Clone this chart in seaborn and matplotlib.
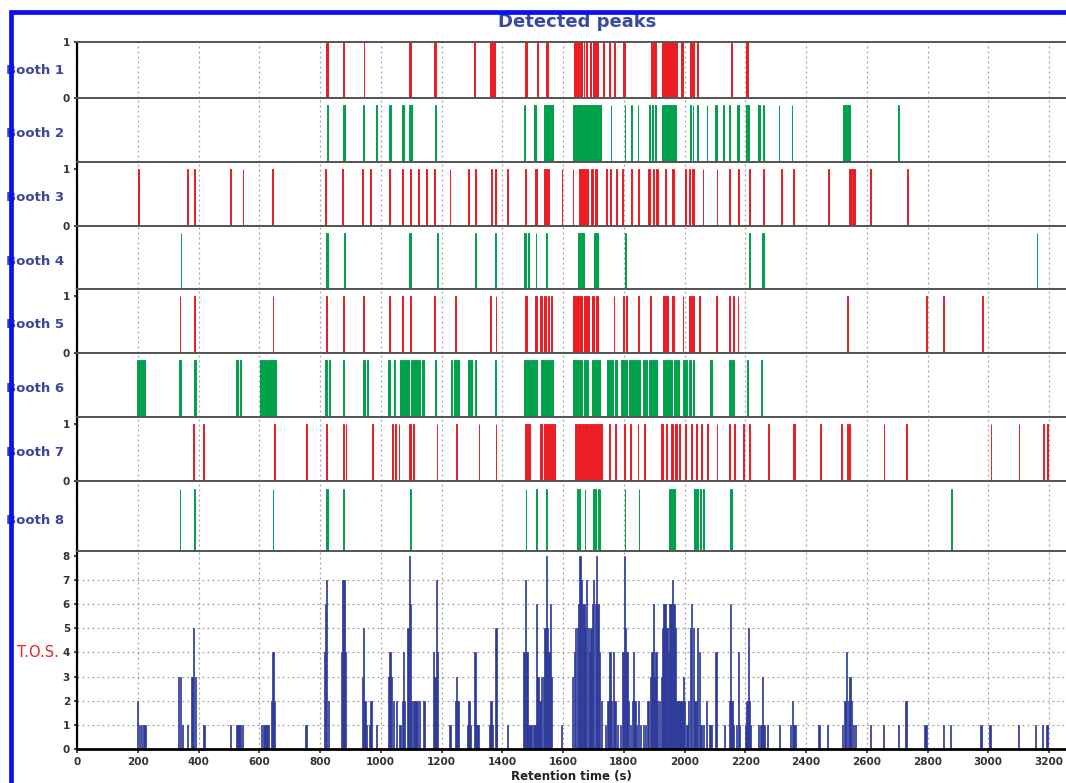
import matplotlib
matplotlib.use("Agg")
import matplotlib.pyplot as plt
import seaborn as sns
from matplotlib.patches import Rectangle
from matplotlib.transforms import blended_transform_factory

# ---------------- data (retention time in s, peak duration in s) ----------------
booth_names = ["Booth 1", "Booth 2", "Booth 3", "Booth 4", "Booth 5", "Booth 6", "Booth 7", "Booth 8"]

b1_time = [823, 877, 945, 1095, 1178, 1310, 1363, 1374, 1479, 1515, 1546, 1640, 1650, 1659, 1669, 1677, 1690, 1704, 1711, 1732, 1752, 1770, 1802, 1893, 1902, 1930, 1940, 1950, 1960, 1970, 1993, 2020, 2028, 2044, 2154, 2206]
b1_dur = [5, 5, 3, 6, 8, 3, 6, 6, 6, 4, 7, 8, 8, 8, 3, 3, 3, 8, 6, 3, 3, 3, 6, 6, 6, 10, 10, 10, 10, 10, 6, 6, 5, 3, 3, 8]

b2_time = [825, 880, 943, 987, 1030, 1073, 1098, 1180, 1474, 1508, 1541, 1552, 1562, 1638, 1650, 1662, 1674, 1686, 1698, 1710, 1720, 1758, 1804, 1827, 1847, 1885, 1895, 1905, 1930, 1942, 1954, 1966, 2020, 2028, 2044, 2074, 2104, 2128, 2148, 2176, 2208, 2246, 2260, 2311, 2354, 2528, 2540, 2705]
b2_dur = [3, 7, 3, 3, 8, 4, 7, 3, 5, 5, 10, 10, 8, 10, 10, 10, 10, 10, 10, 10, 8, 3, 3, 3, 3, 3, 4, 4, 10, 10, 10, 10, 5, 3, 3, 3, 5, 3, 5, 6, 8, 6, 6, 3, 3, 10, 10, 3]

b3_time = [203, 364, 388, 506, 547, 643, 817, 873, 941, 966, 1030, 1072, 1097, 1124, 1150, 1177, 1228, 1288, 1313, 1365, 1379, 1418, 1476, 1511, 1541, 1552, 1597, 1633, 1657, 1668, 1678, 1696, 1708, 1744, 1757, 1777, 1797, 1827, 1850, 1883, 1898, 1910, 1936, 1962, 2004, 2016, 2028, 2061, 2107, 2149, 2178, 2213, 2259, 2318, 2358, 2475, 2545, 2557, 2611, 2733]
b3_dur = [2, 2, 3, 2, 2, 3, 3, 4, 4, 3, 4, 4, 4, 4, 3, 5, 2, 3, 4, 3, 4, 3, 3, 4, 7, 7, 2, 3, 8, 8, 6, 8, 8, 3, 3, 3, 3, 3, 3, 4, 5, 5, 3, 4, 4, 4, 4, 3, 3, 3, 6, 3, 3, 3, 3, 3, 8, 8, 3, 3]

b4_time = [343, 822, 882, 1097, 1187, 1312, 1378, 1476, 1486, 1511, 1545, 1652, 1664, 1705, 1714, 1807, 2214, 2259, 3160]
b4_dur = [2, 6, 3, 5, 2, 3, 3, 6, 4, 2, 4, 8, 8, 8, 4, 4, 4, 5, 2]

b5_time = [339, 388, 645, 821, 877, 944, 1030, 1072, 1097, 1177, 1246, 1362, 1379, 1478, 1511, 1528, 1540, 1552, 1562, 1636, 1648, 1660, 1672, 1682, 1700, 1712, 1768, 1799, 1810, 1850, 1888, 1932, 1943, 1962, 1995, 2018, 2028, 2048, 2104, 2148, 2160, 2176, 2536, 2796, 2852, 2982]
b5_dur = [3, 4, 2, 4, 4, 3, 4, 3, 4, 4, 3, 2, 2, 6, 4, 6, 6, 6, 6, 8, 8, 8, 8, 6, 6, 5, 3, 4, 3, 3, 4, 6, 5, 6, 3, 5, 4, 3, 3, 4, 3, 3, 3, 3, 2, 3]

b6_time = [200, 212, 222, 340, 388, 528, 538, 605, 617, 629, 641, 652, 821, 830, 877, 944, 957, 1026, 1045, 1066, 1078, 1090, 1102, 1114, 1126, 1138, 1181, 1233, 1244, 1254, 1290, 1298, 1311, 1378, 1475, 1487, 1499, 1511, 1533, 1545, 1557, 1566, 1636, 1648, 1660, 1672, 1681, 1700, 1712, 1721, 1750, 1762, 1774, 1796, 1808, 1820, 1832, 1844, 1853, 1866, 1876, 1888, 1900, 1909, 1932, 1944, 1956, 1968, 1979, 1998, 2007, 2018, 2030, 2086, 2149, 2160, 2207, 2253]
b6_dur = [8, 8, 6, 6, 6, 6, 5, 8, 8, 8, 8, 6, 6, 4, 5, 6, 3, 6, 5, 6, 8, 8, 8, 8, 8, 6, 4, 3, 8, 6, 5, 4, 3, 5, 8, 8, 8, 6, 8, 8, 8, 5, 8, 8, 8, 8, 5, 8, 8, 4, 8, 8, 8, 8, 8, 8, 8, 8, 4, 6, 4, 8, 8, 4, 8, 8, 8, 8, 6, 6, 4, 6, 5, 6, 6, 5, 4, 2]

b7_time = [385, 416, 651, 756, 821, 877, 886, 972, 1039, 1050, 1060, 1097, 1108, 1185, 1250, 1323, 1380, 1477, 1488, 1528, 1540, 1552, 1564, 1572, 1642, 1654, 1666, 1678, 1690, 1702, 1714, 1726, 1753, 1772, 1803, 1822, 1847, 1868, 1926, 1940, 1958, 1972, 1983, 2002, 2023, 2040, 2056, 2075, 2107, 2149, 2165, 2193, 2213, 2276, 2360, 2448, 2517, 2537, 2542, 2657, 2730, 3009, 3101, 3181, 3195]
b7_dur = [3, 2, 2, 2, 3, 4, 2, 2, 4, 3, 3, 7, 5, 2, 2, 2, 2, 6, 4, 8, 8, 8, 8, 4, 8, 8, 8, 8, 8, 8, 8, 8, 4, 4, 5, 5, 3, 3, 6, 5, 6, 6, 4, 3, 3, 3, 3, 3, 3, 3, 3, 3, 3, 3, 8, 3, 2, 3, 3, 2, 3, 3, 2, 3, 4]

b8_time = [339, 388, 645, 823, 877, 1097, 1478, 1514, 1545, 1647, 1655, 1672, 1700, 1708, 1716, 1722, 1804, 1850, 1952, 1964, 2032, 2042, 2052, 2062, 2153, 2879]
b8_dur = [3, 3, 2, 6, 4, 4, 2, 3, 4, 3, 3, 2, 3, 3, 4, 2, 3, 2, 8, 8, 3, 5, 4, 2, 4, 2]

# T.O.S. : (retention time, number of booths)
tos_counts = [
    (200, 2), (206, 1), (212, 1), (218, 1), (224, 1), (335, 3), (341, 3), (347, 1), (364, 1),
    (378, 3), (384, 5), (390, 3), (418, 1), (506, 1), (527, 1), (533, 1), (539, 1), (545, 1),
    (607, 1), (613, 1), (619, 1), (625, 1), (631, 1), (641, 2), (645, 4), (651, 2), (754, 1),
    (815, 4), (819, 6), (822, 7), (827, 2), (870, 4), (874, 7), (879, 7), (884, 4),
    (940, 3), (944, 5), (948, 2), (953, 1), (965, 1), (968, 2), (987, 1),
    (1026, 3), (1031, 4), (1036, 3), (1041, 2), (1052, 2), (1063, 1), (1072, 2), (1075, 4), (1079, 2),
    (1090, 5), (1094, 8), (1098, 6), (1102, 2), (1110, 2), (1116, 2), (1122, 2), (1128, 2), (1142, 2),
    (1174, 4), (1178, 3), (1183, 7), (1187, 4), (1228, 1), (1246, 2), (1250, 3), (1254, 2),
    (1287, 1), (1291, 2), (1296, 1), (1310, 4), (1314, 1), (1320, 1), (1360, 1), (1363, 2), (1368, 1),
    (1379, 5), (1382, 1), (1418, 1), (1472, 4), (1476, 7), (1481, 4), (1488, 1), (1495, 1), (1502, 1),
    (1508, 1), (1513, 6), (1518, 3), (1524, 2), (1530, 3), (1535, 3), (1541, 5), (1545, 8), (1549, 5),
    (1554, 4), (1558, 6), (1563, 3), (1596, 1), (1632, 3), (1637, 4), (1642, 5), (1647, 5), (1652, 6),
    (1656, 8), (1660, 7), (1665, 6), (1669, 6), (1674, 5), (1678, 7), (1683, 5), (1688, 4), (1692, 5),
    (1697, 6), (1701, 7), (1706, 6), (1711, 8), (1715, 6), (1720, 4), (1727, 2), (1740, 1), (1748, 2),
    (1755, 4), (1760, 2), (1766, 4), (1771, 2), (1780, 1), (1790, 1), (1798, 4), (1802, 8), (1806, 5),
    (1811, 4), (1816, 2), (1822, 1), (1828, 2), (1832, 4), (1837, 2), (1843, 1), (1848, 2), (1855, 1),
    (1864, 1), (1872, 1), (1880, 2), (1888, 3), (1893, 4), (1897, 6), (1902, 3), (1906, 4), (1911, 2),
    (1918, 2), (1924, 3), (1929, 5), (1933, 6), (1938, 6), (1942, 5), (1947, 4), (1952, 6), (1956, 6),
    (1961, 7), (1966, 6), (1970, 5), (1975, 2), (1980, 2), (1985, 2), (1992, 2), (1996, 3), (2000, 2),
    (2008, 1), (2014, 2), (2019, 5), (2024, 6), (2029, 5), (2034, 2), (2040, 2), (2043, 5), (2049, 4),
    (2054, 1), (2062, 1), (2073, 2), (2082, 1), (2087, 1), (2104, 4), (2131, 1), (2148, 2), (2152, 6),
    (2156, 2), (2161, 1), (2172, 1), (2177, 4), (2182, 1), (2202, 1), (2206, 2), (2210, 5), (2214, 2),
    (2218, 1), (2243, 1), (2252, 1), (2257, 3), (2262, 1), (2273, 1), (2312, 1), (2350, 1), (2355, 2),
    (2360, 1), (2366, 1), (2443, 1), (2471, 1), (2521, 1), (2528, 2), (2534, 4), (2540, 2), (2545, 3),
    (2550, 2), (2556, 1), (2562, 1), (2613, 1), (2655, 1), (2704, 1), (2729, 2), (2792, 1), (2797, 1),
    (2852, 1), (2876, 1), (2976, 1), (3006, 1), (3099, 1), (3156, 1), (3178, 1), (3194, 1),
]
tos_time = [t for t, v in tos_counts]
tos_value = [v for t, v in tos_counts]

x_ticks = list(range(0, 3201, 200))
tos_ticks = list(range(0, 9))

# ---------------- style ----------------
sns.set_theme(style="white")
plt.rcParams["font.family"] = ["DejaVu Sans"]

RED = "#EC1C24"
GREEN = "#00A14B"
BLUE = "#2E3A9A"
LABEL_BLUE = "#3D4597"
TICK_COL = "#333333"
GRID_COL = "#A0A0A0"
GRID_LS = (0, (1.5, 2.5))

W, H = 1066, 783
LEFT, RIGHT = 77, 1066
XMAX = (RIGHT - LEFT) / 0.30375

fig = plt.figure(figsize=(W / 100, H / 100), dpi=100)
fig.patch.set_facecolor("white")


def add_px_axes(top, bottom):
    return fig.add_axes([LEFT / W, 1 - bottom / H, (RIGHT - LEFT) / W, (bottom - top) / H])


panels = [(42, 98), (98, 162), (162, 226), (226, 289), (289, 353), (353, 417), (417, 481), (481, 551)]
booths = [(b1_time, b1_dur), (b2_time, b2_dur), (b3_time, b3_dur), (b4_time, b4_dur),
          (b5_time, b5_dur), (b6_time, b6_dur), (b7_time, b7_dur), (b8_time, b8_dur)]

for i, ((top, bot), (times, durs)) in enumerate(zip(panels, booths)):
    ax = add_px_axes(top, bot)
    ax.set_facecolor("white")
    col = RED if i % 2 == 0 else GREEN
    ax.bar(times, [1.0] * len(times), width=durs, color=col, edgecolor=col,
           linewidth=0.7, align="center", zorder=2)
    ax.set_xlim(0, XMAX)
    ax.set_ylim(0, 1.0 if i == 0 else 1.13)
    ax.set_xticks(x_ticks)
    ax.set_xticklabels([])
    ax.tick_params(axis="x", length=0)
    ax.grid(axis="x", color=GRID_COL, linestyle=GRID_LS, linewidth=0.9, zorder=0)
    ax.grid(axis="y", visible=False)
    ax.set_axisbelow(True)
    for s in ["top", "bottom"]:
        ax.spines[s].set_color("#555555")
        ax.spines[s].set_linewidth(1.4)
        ax.spines[s].set_zorder(3)
    ax.spines["left"].set_color("black")
    ax.spines["left"].set_linewidth(1.6)
    ax.spines["right"].set_visible(False)
    if i % 2 == 0:
        ax.set_yticks([0, 1])
        ax.set_yticklabels(["0", "1"], fontsize=7.5, fontweight="bold", color=TICK_COL)
        ax.tick_params(axis="y", length=2, pad=3, colors=TICK_COL, left=True)
    else:
        ax.set_yticks([])
    tr = blended_transform_factory(fig.transFigure, ax.transData)
    fig.text(6 / W, 0.5, booth_names[i], transform=tr, ha="left", va="center",
             fontsize=9.5, fontweight="bold", color=LABEL_BLUE, zorder=3)

# ---------------- T.O.S. panel ----------------
axt = add_px_axes(551, 749)
axt.set_facecolor("white")
axt.bar(tos_time, tos_value, width=4.5, color=BLUE, edgecolor=BLUE, linewidth=0.5,
        align="center", zorder=2)
axt.set_xlim(0, XMAX)
axt.set_ylim(0, 8.2)
axt.set_xticks(x_ticks)
axt.set_xticklabels([str(v) for v in x_ticks], fontsize=7.5, fontweight="bold", color=TICK_COL)
axt.set_yticks(tos_ticks)
axt.set_yticklabels([str(v) for v in tos_ticks], fontsize=7.5, fontweight="bold", color=TICK_COL)
axt.tick_params(axis="x", length=3, pad=3, colors=TICK_COL, bottom=True)
axt.tick_params(axis="y", length=2, pad=3, colors=TICK_COL, left=True)
axt.grid(axis="x", color=GRID_COL, linestyle=GRID_LS, linewidth=0.9, zorder=0)
axt.grid(axis="y", visible=False)
for yv in tos_ticks[1:-1]:
    axt.axhline(yv, color=GRID_COL, linestyle=GRID_LS, linewidth=0.9, zorder=0)
axt.set_axisbelow(True)
axt.spines["top"].set_color("#555555")
axt.spines["top"].set_linewidth(1.4)
axt.spines["bottom"].set_color("black")
axt.spines["bottom"].set_linewidth(2.0)
axt.spines["left"].set_color("black")
axt.spines["left"].set_linewidth(1.6)
axt.spines["right"].set_visible(False)
axt.set_xlabel("Retention time (s)", fontsize=8.5, fontweight="bold", color="#222222", labelpad=2)
tr = blended_transform_factory(fig.transFigure, axt.transData)
fig.text(59 / W, 4, "T.O.S.", transform=tr, ha="right", va="center",
         fontsize=10.5, color="#E8202A", zorder=3)

# ---------------- title and frame ----------------
fig.text(577 / W, 1 - 22 / H, "Detected peaks", ha="center", va="center",
         fontsize=13, fontweight="bold", color="#3A4A9C", zorder=3)

frame = Rectangle((10.5 / W, -0.1), 1.2, (H - 12.5) / H + 0.1, transform=fig.transFigure,
                  fill=False, edgecolor="#0A10F5", linewidth=3.4, clip_on=False, zorder=10)
fig.patches.append(frame)

fig.savefig("out.png", dpi=100, facecolor="white")
